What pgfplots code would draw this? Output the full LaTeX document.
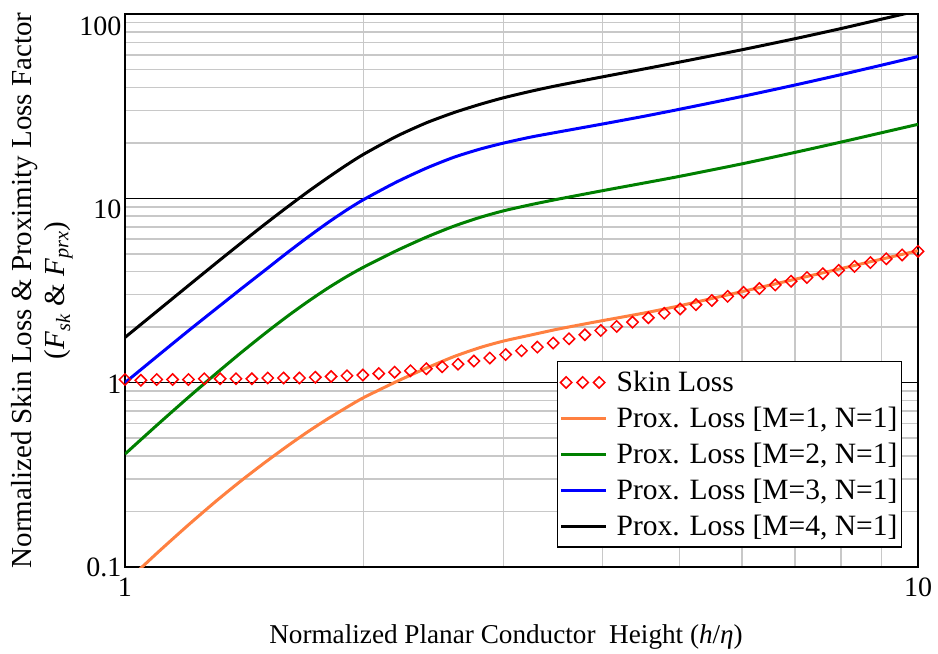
\documentclass[border=0pt]{standalone}
\usepackage{pgfplots}
\pgfplotsset{compat=1.18}
\usepackage{fontspec}
\setmainfont{Liberation Serif}
\definecolor{proxorange}{RGB}{255,128,64}
\definecolor{proxgreen}{RGB}{0,128,0}
\definecolor{proxblue}{RGB}{0,0,255}
\definecolor{gridgray}{RGB}{200,200,200}

\pgfplotsset{
  threemarks/.style={legend image code/.code={\draw[##1] plot[only marks] coordinates {(5bp,0bp) (21.5bp,0bp) (38bp,0bp)};}},
  shortline/.style={legend image code/.code={\draw[##1] (0bp,0bp) -- (45bp,0bp);}},
}

\pgfplotstableread{
x y
1.0000 1.04
1.0471 1.03
1.0965 1.04
1.1482 1.04
1.2023 1.04
1.2589 1.05
1.3183 1.05
1.3804 1.05
1.4454 1.05
1.5136 1.06
1.5849 1.06
1.6596 1.06
1.7378 1.07
1.8197 1.08
1.9055 1.09
1.9953 1.10
2.0893 1.12
2.1878 1.14
2.2909 1.16
2.3988 1.19
2.5119 1.22
2.6303 1.26
2.7542 1.31
2.8840 1.36
3.0200 1.42
3.1623 1.49
3.3113 1.56
3.4674 1.64
3.6308 1.73
3.8019 1.82
3.9811 1.92
4.1687 2.02
4.3652 2.13
4.5709 2.25
4.7863 2.38
5.0119 2.51
5.2481 2.65
5.4954 2.79
5.7544 2.94
6.0256 3.09
6.3096 3.24
6.6069 3.39
6.9183 3.55
7.2444 3.72
7.5858 3.90
7.9433 4.07
8.3176 4.27
8.7096 4.48
9.1201 4.70
9.5499 4.93
10.000 5.16
}\skindata

\pgfplotstableread{
x y
1.00 0.082
1.10 0.120
1.20 0.168
1.30 0.226
1.40 0.293
1.50 0.368
1.60 0.451
1.70 0.541
1.80 0.635
1.90 0.731
2.00 0.830
2.20 1.014
2.40 1.200
2.60 1.386
2.80 1.548
3.00 1.681
3.25 1.814
3.50 1.945
3.75 2.060
4.00 2.170
4.50 2.380
5.00 2.610
6.00 3.120
7.00 3.640
8.00 4.160
9.00 4.680
10.0 5.200
}\proxone

\pgfplotstableread{
x y
1.00 0.410
1.10 0.594
1.20 0.827
1.30 1.112
1.40 1.452
1.50 1.843
1.60 2.28
1.70 2.75
1.80 3.245
1.90 3.745
2.00 4.235
2.20 5.20
2.40 6.16
2.60 7.07
2.80 7.87
3.00 8.55
3.25 9.24
3.50 9.86
4.00 11.0
4.50 12.08
5.00 13.15
6.00 15.39
7.00 17.76
8.00 20.2
9.00 22.7
10.0 25.2
}\proxtwo

\pgfplotstableread{
x y
1.00 1.00
1.10 1.40
1.20 1.90
1.30 2.50
1.40 3.22
1.50 4.06
1.60 5.05
1.70 6.15
1.80 7.35
1.90 8.60
2.00 9.85
2.20 12.26
2.40 14.59
2.60 16.72
2.80 18.47
3.00 19.93
3.25 21.5
3.50 22.8
4.00 25.3
4.50 27.8
5.00 30.4
6.00 35.7
7.00 41.2
8.00 46.9
9.00 52.8
10.0 58.8
}\proxthree

\pgfplotstableread{
x y
1.00 1.76
1.10 2.46
1.20 3.34
1.30 4.42
1.40 5.71
1.50 7.22
1.60 8.93
1.70 10.84
1.80 12.9
1.90 15.1
2.00 17.35
2.20 21.7
2.40 25.7
2.60 29.2
2.80 32.3
3.00 35.1
3.25 38.1
3.50 40.8
4.00 45.6
4.50 50.2
5.00 54.8
6.00 64.0
7.00 73.5
8.00 83.4
9.00 93.8
10.0 104.2
}\proxfour

\begin{document}
\begin{tikzpicture}[font=\fontsize{28bp}{33bp}\selectfont]
\useasboundingbox (-125bp,-87bp) rectangle (813bp,567bp);
\begin{loglogaxis}[
  at={(0,0)}, anchor=south west,
  width=793bp, height=553bp, scale only axis,
  xmin=1, xmax=10, ymin=0.1, ymax=100,
  xtick={1,10}, xticklabels={1,10},
  ytick={0.1,1,10,100},
  yticklabels={0.1,
    \raisebox{-2bp}[\height][\depth]{1},
    \raisebox{-11bp}[\height][\depth]{10},
    \raisebox{-12bp}[\height][\depth]{100}},
  minor xtick={2,3,4,5,6,7,8,9},
  minor ytick={0.2,0.3,0.4,0.5,0.6,0.7,0.8,0.9,2,3,4,5,6,7,8,9,20,30,40,50,60,70,80,90},
  grid=both,
  major grid style={black, line width=1bp},
  minor grid style={gridgray, line width=1.5bp},
  axis line style={black, line width=1.5bp},
  major tick length=0pt, minor tick length=0pt,
  tick label style={font=\fontsize{28bp}{33bp}\selectfont},
  xticklabel style={yshift=-7bp},
  /pgf/number format/assume math mode=true,
  xlabel={Normalized Planar Conductor\ \ Height (\textit{h}/\textit{η})},
  xlabel style={at={(axis description cs:0.4805,0)}, anchor=center, yshift=-70bp,
    font=\fontsize{27.2bp}{33bp}\selectfont},
  ylabel={Normalized Skin Loss \& Proximity Loss Factor\\(\textit{F}\textsubscript{\textit{sk}} \& \textit{F}\textsubscript{\textit{prx}})},
  ylabel style={align=center, font=\fontsize{29bp}{33bp}\selectfont},
  legend cell align=left,
  legend style={at={(0.98,0.0344)}, anchor=south east, draw=black, line width=1.5bp,
    fill=white, font=\fontsize{29.5bp}{33bp}\selectfont, row sep=10bp, column sep=7bp,
    inner xsep=2bp, inner ysep=8bp},
]
\addplot[only marks, mark=square, mark size=4bp,
  mark options={draw=red, line width=1.5bp, rotate=45}, threemarks]
  table[x=x,y=y] {\skindata};
\addlegendentry{Skin Loss}
\addplot[proxorange, line width=3bp, no marks, smooth, tension=0.4, shortline] table[x=x,y=y] {\proxone};
\addlegendentry{Prox. Loss [M=1, N=1]}
\addplot[proxgreen, line width=3bp, no marks, smooth, tension=0.4, shortline] table[x=x,y=y] {\proxtwo};
\addlegendentry{Prox. Loss [M=2, N=1]}
\addplot[proxblue, line width=3bp, no marks, smooth, tension=0.4, shortline] table[x=x,y=y] {\proxthree};
\addlegendentry{Prox. Loss [M=3, N=1]}
\addplot[black, line width=3bp, no marks, smooth, tension=0.4, shortline] table[x=x,y=y] {\proxfour};
\addlegendentry{Prox. Loss [M=4, N=1]}
\end{loglogaxis}
\end{tikzpicture}
\end{document}
